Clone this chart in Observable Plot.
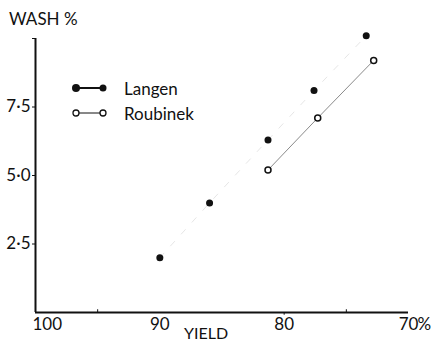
<!DOCTYPE html>
<html><head><meta charset="utf-8">
<script src="https://cdn.jsdelivr.net/npm/d3@7"></script>
<script src="https://cdn.jsdelivr.net/npm/@observablehq/plot@0.6"></script>
<style>
body{margin:0;background:#fff;}
#wrap{position:relative;width:440px;height:342px;font-family:Lato,"DejaVu Sans",sans-serif;color:#111;}
.ov{position:absolute;white-space:nowrap;line-height:1;}
</style>
</head><body>
<div id="wrap"></div>
<script>
const langenYield = [90, 86, 81.3, 77.6, 73.4];
const langenWash  = [2.0, 4.0, 6.3, 8.1, 10.1];
const roubYield = [81.3, 77.3, 72.8];
const roubWash  = [5.2, 7.1, 9.2];
const yTicks = [2.5, 5.0, 7.5];
const xTicks = [90, 80, 70];
const xMinor = [95, 75];

const langen = langenYield.map((x,i)=>({x, y: langenWash[i]}));
const roub = roubYield.map((x,i)=>({x, y: roubWash[i]}));

const fmtY = d => d.toFixed(1).replace(".", "\u00b7");

const chart = Plot.plot({
  width: 440, height: 342,
  marginLeft: 35, marginRight: 32, marginTop: 38, marginBottom: 30,
  style: {fontFamily: "Lato, 'DejaVu Sans', sans-serif", fontSize: "17px", color: "#111", background: "#fff"},
  x: {domain: [100, 70], axis: null, label: null},
  y: {domain: [0, 10], axis: null, label: null},
  marks: [
    Plot.ruleX([100], {y1: 0, y2: 10, stroke: "#111", strokeWidth: 2}),
    Plot.ruleY([0], {x1: 100, x2: 70, stroke: "#111", strokeWidth: 2}),
    Plot.axisY(yTicks, {label: null, tickSize: 3, tickPadding: 2, tickFormat: fmtY, fontSize: 17, stroke: "#111", fill: "#111"}),
    Plot.axisY([10], {label: null, tickSize: 3, tickFormat: () => "", stroke: "#111"}),
    Plot.axisX(xTicks, {label: null, tickSize: 0, tickPadding: 5, tickFormat: d => String(d), fontSize: 17, fill: "#111"}),
    Plot.axisX([100], {label: null, tickSize: 0, tickPadding: 5, tickFormat: () => "100", textAnchor: "start", dx: -3, fontSize: 17, fill: "#111"}),
    Plot.ruleX(xMinor, {y1: 0, y2: 0.1, stroke: "#111", strokeWidth: 1}),
    Plot.ruleX([80], {y1: 0, y2: -0.1, stroke: "#111", strokeWidth: 1}),
    Plot.text([70], {x: d => d, y: 0, text: () => "%", textAnchor: "start", dx: 9, dy: 12, fontSize: 17, fill: "#111"}),
    Plot.line(langen, {x: "x", y: "y", stroke: "#e6e6e6", strokeWidth: 1, strokeDasharray: "6,10"}),
    Plot.line(roub, {x: "x", y: "y", stroke: "#8a8a8a", strokeWidth: 1}),
    Plot.dot(langen, {x: "x", y: "y", r: 3.5, fill: "#111", stroke: "none"}),
    Plot.dot(roub, {x: "x", y: "y", r: 3, fill: "#fff", stroke: "#111", strokeWidth: 1.5})
  ]
});

const wrap = document.getElementById("wrap");
chart.style.position = "absolute";
chart.style.left = "0"; chart.style.top = "0";
wrap.appendChild(chart);

function ov(html, css){
  const d = document.createElement("div");
  d.className = "ov"; d.innerHTML = html; Object.assign(d.style, css); wrap.appendChild(d);
}
ov("WASH %", {left: "9px", top: "10px", fontSize: "17px"});
ov("YIELD", {left: "184px", top: "325px", fontSize: "16px"});
ov('<svg width="40" height="12" style="display:block"><line x1="6" y1="6" x2="33" y2="6" stroke="#111" stroke-width="2"/><circle cx="6" cy="6" r="4" fill="#111"/><circle cx="33" cy="6" r="3.5" fill="#111"/></svg>', {left: "70px", top: "82px"});
ov('<svg width="40" height="12" style="display:block"><line x1="6" y1="6" x2="33" y2="6" stroke="#111" stroke-width="1"/><circle cx="6" cy="6" r="3" fill="#fff" stroke="#111" stroke-width="1.3"/><circle cx="33" cy="6" r="3" fill="#fff" stroke="#111" stroke-width="1.3"/></svg>', {left: "70px", top: "107px"});
ov("Langen", {left: "124px", top: "80px", fontSize: "17px"});
ov("Roubinek", {left: "124px", top: "105px", fontSize: "17px"});
</script>
</body></html>
